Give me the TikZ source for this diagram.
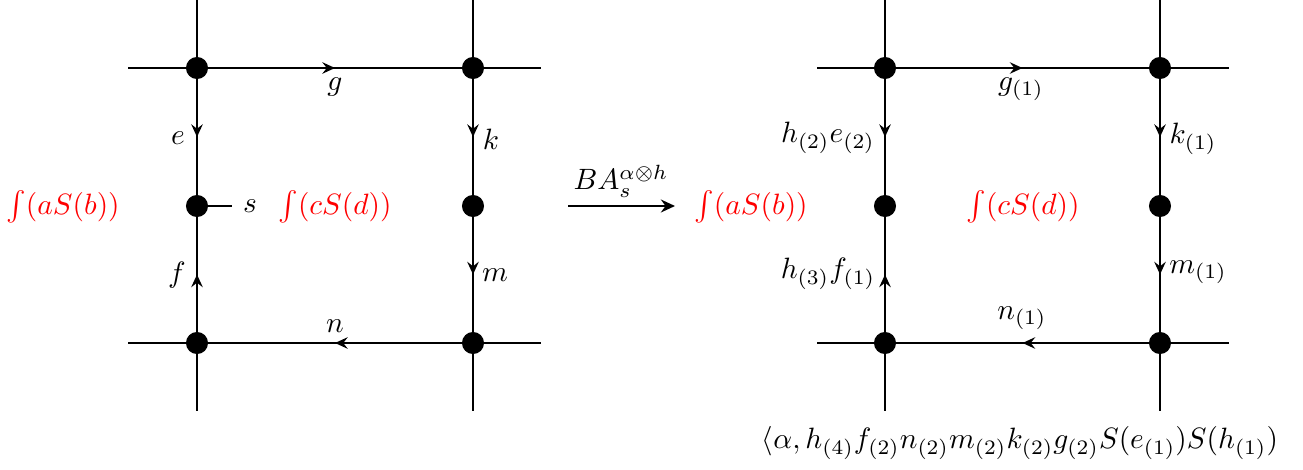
\documentclass[tikz,border=0pt]{standalone}
\usetikzlibrary{arrows.meta,decorations.markings}
\begin{document}
\begin{tikzpicture}[x=0.34pt,y=-0.34pt,
  wire/.style={line width=1pt},
  dot/.style={circle,fill=black,inner sep=0pt,outer sep=0pt,minimum size=7.5pt},
  midarrow/.style={wire,postaction={decorate},decoration={markings,mark=at position 0.5 with {\arrow{Stealth[length=4.3pt,width=3.9pt,inset=1.5pt]}}}},
  lbl/.style={inner sep=0pt},
  redlbl/.style={inner sep=0pt,text=red}]
\useasboundingbox (0,0) rectangle (1303,470);
% ---------- left diagram ----------
\node[dot] (LA) at (197,68) {};
\node[dot] (LB) at (473,68) {};
\node[dot] (LC) at (197,206) {};
\node[dot] (LD) at (473,206) {};
\node[dot] (LE) at (197,343) {};
\node[dot] (LF) at (473,343) {};
\coordinate (LtL) at (128,68);  \coordinate (LtR) at (541,68);
\coordinate (LbL) at (128,343); \coordinate (LbR) at (541,343);
\coordinate (LvAt) at (197,0);  \coordinate (LvBt) at (473,0);
\coordinate (LvEb) at (197,411); \coordinate (LvFb) at (473,411);
\coordinate (Ls) at (232,206);
\draw[wire] (LtL) -- (LA); \draw[wire] (LB) -- (LtR);
\draw[wire] (LbL) -- (LE); \draw[wire] (LF) -- (LbR);
\draw[wire] (LvAt) -- (LA); \draw[wire] (LvBt) -- (LB);
\draw[wire] (LE) -- (LvEb); \draw[wire] (LF) -- (LvFb);
\draw[wire] (LC) -- (Ls);
\draw[midarrow] (LA) -- (LB);
\draw[midarrow] (LA) -- (LC);
\draw[midarrow] (LE) -- (LC);
\draw[midarrow] (LB) -- (LD);
\draw[midarrow] (LD) -- (LF);
\draw[midarrow] (LF) -- (LE);
\node[lbl] (lg) at (335,87) {$g$};
\node[lbl] (le) at (178,138) {$e$};
\node[lbl] (lk) at (491,139) {$k$};
\node[lbl] (lf) at (177,275) {$f$};
\node[lbl] (lm) at (495,275) {$m$};
\node[lbl] (ln) at (335,326) {$n$};
\node[lbl] (ls) at (250,206) {$s$};
\node[redlbl] (lab) at (63,207) {$\int(aS(b))$};
\node[redlbl] (lcd) at (335,207) {$\int(cS(d))$};
% ---------- transformation arrow ----------
\coordinate (TA) at (568,206); \coordinate (TB) at (675,206);
\draw[wire,-{Stealth[length=4.8pt,width=4.4pt,inset=1.6pt]}] (TA) -- (TB);
\node[lbl] (tl) at (621,181) {$BA_s^{\alpha\otimes h}$};
% ---------- right diagram ----------
\node[dot] (RA) at (885,68) {};
\node[dot] (RB) at (1160,68) {};
\node[dot] (RC) at (885,206) {};
\node[dot] (RD) at (1160,206) {};
\node[dot] (RE) at (885,343) {};
\node[dot] (RF) at (1160,343) {};
\coordinate (RtL) at (817,68);  \coordinate (RtR) at (1229,68);
\coordinate (RbL) at (817,343); \coordinate (RbR) at (1229,343);
\coordinate (RvAt) at (885,0);  \coordinate (RvBt) at (1160,0);
\coordinate (RvEb) at (885,411); \coordinate (RvFb) at (1160,411);
\draw[wire] (RtL) -- (RA); \draw[wire] (RB) -- (RtR);
\draw[wire] (RbL) -- (RE); \draw[wire] (RF) -- (RbR);
\draw[wire] (RvAt) -- (RA); \draw[wire] (RvBt) -- (RB);
\draw[wire] (RE) -- (RvEb); \draw[wire] (RF) -- (RvFb);
\draw[midarrow] (RA) -- (RB);
\draw[midarrow] (RA) -- (RC);
\draw[midarrow] (RE) -- (RC);
\draw[midarrow] (RB) -- (RD);
\draw[midarrow] (RD) -- (RF);
\draw[midarrow] (RF) -- (RE);
\node[lbl] (rg) at (1021,89) {$g_{(1)}$};
\node[lbl] (re) at (828,138) {$h_{(2)}e_{(2)}$};
\node[lbl] (rk) at (1193,139) {$k_{(1)}$};
\node[lbl] (rf) at (828,274) {$h_{(3)}f_{(1)}$};
\node[lbl] (rm) at (1198,272) {$m_{(1)}$};
\node[lbl] (rn) at (1022,318) {$n_{(1)}$};
\node[redlbl] (rab) at (751,207) {$\int(aS(b))$};
\node[redlbl] (rcd) at (1023,207) {$\int(cS(d))$};
\node[lbl] (rbot) at (1020,443) {$\langle\alpha, h_{(4)}f_{(2)}n_{(2)}m_{(2)}k_{(2)}g_{(2)}S(e_{(1)})S(h_{(1)})$};
\end{tikzpicture}
\end{document}
